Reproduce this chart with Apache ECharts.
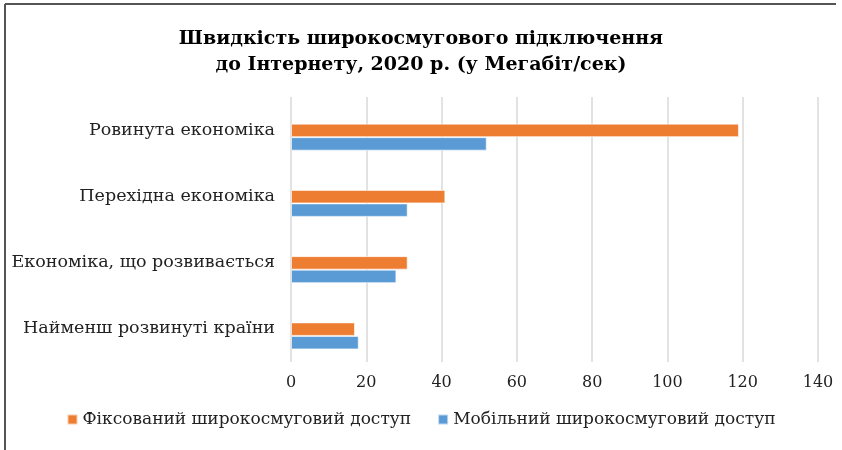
<!DOCTYPE html>
<html>
<head>
<meta charset="utf-8">
<script src="https://cdn.jsdelivr.net/npm/echarts@6/dist/echarts.min.js"></script>
<style>
  html, body { margin: 0; padding: 0; background: #fff; }
  #chart { width: 842px; height: 450px; }
</style>
</head>
<body>
<div id="chart"></div>
<script>
// categories, top to bottom
var categories = ['Ровинута економіка', 'Перехідна економіка', 'Економіка, що розвивається', 'Найменш розвинуті країни'];
var fixedSpeed = [119, 41, 31, 17];
var mobileSpeed = [52, 31, 28, 18];
var xTicks = [0, 140, 20]; // min, max, step

var serif = 'DejaVu Serif';

var chart = echarts.init(document.getElementById('chart'));
chart.setOption({
  animation: false,
  backgroundColor: '#fff',
  title: {
    text: 'Швидкість широкосмугового підключення\nдо Інтернету, 2020 р. (у Мегабіт/сек)',
    left: 'center',
    top: 21,
    textStyle: {
      fontFamily: serif,
      fontWeight: 'bold',
      fontSize: 19,
      lineHeight: 26,
      color: '#000'
    }
  },
  legend: {
    bottom: 17,
    left: 'center',
    itemWidth: 10,
    itemHeight: 10,
    itemGap: 26,
    icon: 'rect',
    textStyle: { fontFamily: serif, fontSize: 17, color: '#222' },
    data: ['Фіксований широкосмуговий доступ', 'Мобільний широкосмуговий доступ']
  },
  graphic: [
    { type: 'line', shape: { x1: 5, y1: 4, x2: 836, y2: 4 }, style: { stroke: '#555', lineWidth: 2 } },
    { type: 'line', shape: { x1: 5, y1: 4, x2: 5, y2: 450 }, style: { stroke: '#555', lineWidth: 2 } }
  ],
  grid: [
    { left: 291, right: 24, top: 97, height: 265 },
    { left: 291, right: 24, top: 104, height: 265 }
  ],
  xAxis: [
    {
      gridIndex: 0,
      type: 'value',
      min: xTicks[0],
      max: xTicks[1],
      interval: xTicks[2],
      axisLine: { show: false },
      axisTick: { show: false },
      splitLine: { lineStyle: { color: '#d9d9d9', width: 1.5 } },
      axisLabel: { fontFamily: serif, fontSize: 16, color: '#222', margin: 13 }
    },
    {
      gridIndex: 1,
      type: 'value',
      min: xTicks[0],
      max: xTicks[1],
      show: false
    }
  ],
  yAxis: [
    {
      gridIndex: 0,
      type: 'category',
      inverse: true,
      data: categories,
      axisLine: { show: false },
      axisTick: { show: false },
      axisLabel: { fontFamily: serif, fontSize: 17.5, color: '#222', margin: 16 }
    },
    {
      gridIndex: 1,
      type: 'category',
      inverse: true,
      data: categories,
      show: false
    }
  ],
  series: [
    {
      name: 'Фіксований широкосмуговий доступ',
      type: 'bar',
      xAxisIndex: 1,
      yAxisIndex: 1,
      data: fixedSpeed,
      barWidth: 13.5,
      barGap: '0%',
      itemStyle: { color: '#ED7D31', borderColor: 'rgba(255,255,255,0.6)', borderWidth: 1 }
    },
    {
      name: 'Мобільний широкосмуговий доступ',
      type: 'bar',
      xAxisIndex: 1,
      yAxisIndex: 1,
      data: mobileSpeed,
      barWidth: 13.5,
      barGap: '0%',
      itemStyle: { color: '#5B9BD5', borderColor: 'rgba(255,255,255,0.6)', borderWidth: 1 }
    }
  ]
});
</script>
</body>
</html>
